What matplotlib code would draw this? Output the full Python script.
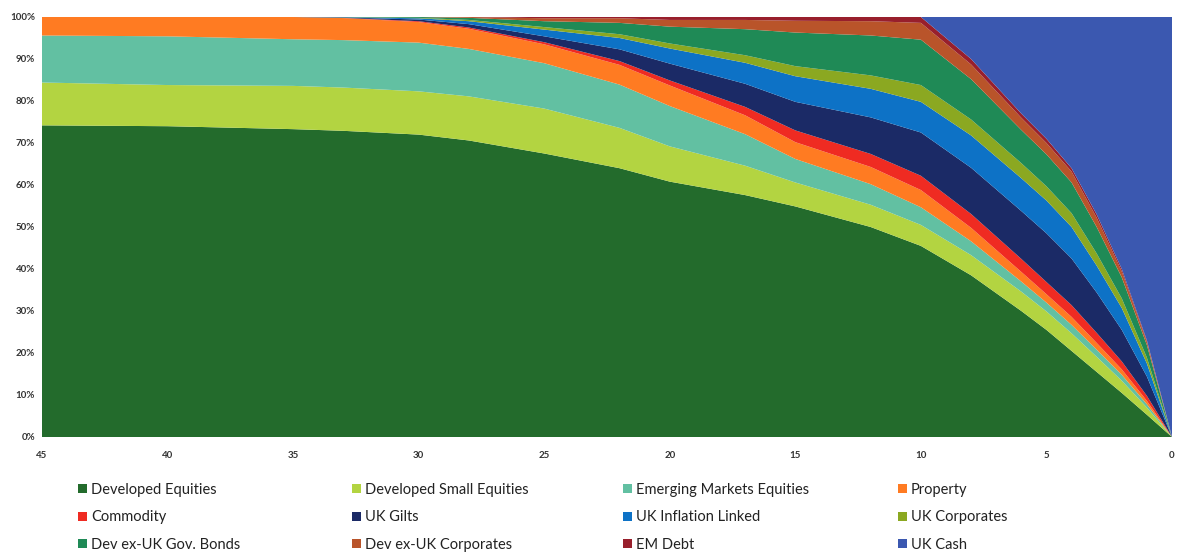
import matplotlib.pyplot as plt
from matplotlib.patches import Patch

# years to retirement (x axis runs 45 -> 0)
years = [45, 40, 35, 33, 30, 28, 25, 22, 20, 17, 15, 12, 10, 8, 6, 5, 4, 3, 2, 1, 0]

dev_equities = [74.2, 74.0, 73.3, 72.9, 72.0, 70.6, 67.5, 64.0, 60.8, 57.6, 54.9, 50.0, 45.5,
                38.5, 30.0, 25.5, 20.5, 15.5, 10.5, 5.3, 0]
dev_small_equities = [10.2, 9.8, 10.3, 10.3, 10.3, 10.5, 10.7, 9.6, 8.4, 7.0, 5.7, 5.3, 5.0,
                      4.8, 4.6, 4.4, 4.2, 3.6, 2.9, 1.7, 0]
em_equities = [11.2, 11.6, 11.1, 11.3, 11.6, 11.3, 10.8, 10.3, 9.6, 7.5, 5.6, 4.9, 4.2,
               3.3, 2.4, 2.1, 2.0, 1.7, 1.4, 0.8, 0]
property_ = [4.4, 4.6, 5.3, 5.25, 4.9, 4.8, 4.5, 4.7, 4.9, 4.5, 4.0, 4.1, 4.1,
             3.2, 2.3, 2.0, 1.9, 1.6, 1.3, 0.8, 0]
commodity = [0, 0, 0, 0.05, 0.2, 0.3, 0.5, 0.9, 1.2, 2.0, 2.8, 3.1, 3.4,
             3.3, 3.1, 2.9, 2.8, 2.4, 1.9, 1.2, 0]
uk_gilts = [0, 0, 0, 0.1, 0.4, 0.8, 1.4, 2.8, 4.0, 5.5, 6.8, 8.7, 10.3,
            11.0, 11.4, 11.6, 11.1, 9.6, 7.5, 4.6, 0]
uk_inflation = [0, 0, 0, 0.05, 0.3, 0.7, 1.6, 2.7, 3.6, 5.0, 6.1, 6.8, 7.3,
                7.7, 7.8, 7.8, 7.5, 6.4, 5.2, 3.1, 0]
uk_corporates = [0, 0, 0, 0, 0.1, 0.3, 0.6, 0.9, 1.2, 1.8, 2.4, 3.2, 4.0,
                 3.8, 3.6, 3.4, 3.3, 2.9, 2.3, 1.4, 0]
dev_gov_bonds = [0, 0, 0, 0.05, 0.2, 0.5, 1.4, 2.7, 4.0, 6.2, 8.0, 9.5, 10.8,
                 9.6, 7.9, 7.6, 7.3, 6.3, 5.0, 3.0, 0]
dev_corporates = [0, 0, 0, 0, 0, 0.2, 0.7, 1.1, 1.6, 2.2, 2.8, 3.4, 4.0,
                  3.5, 2.9, 2.7, 2.6, 2.2, 1.4, 0.8, 0]
em_debt = [0, 0, 0, 0, 0, 0, 0.3, 0.3, 0.7, 0.7, 0.9, 1.0, 1.4,
           1.3, 1.0, 1.0, 0.8, 0.8, 0.6, 0.3, 0]
uk_cash = [0, 0, 0, 0, 0, 0, 0, 0, 0, 0, 0, 0, 0,
           10.0, 23.0, 29.0, 36.0, 47.0, 60.0, 77.0, 100]

labels = ['Developed Equities', 'Developed Small Equities', 'Emerging Markets Equities', 'Property',
          'Commodity', 'UK Gilts', 'UK Inflation Linked', 'UK Corporates',
          'Dev ex-UK Gov. Bonds', 'Dev ex-UK Corporates', 'EM Debt', 'UK Cash']
colors = ['#236b2c', '#b3d441', '#62c0a2', '#ff7b22',
          '#ef2b22', '#1b2a66', '#0d72c6', '#8ba821',
          '#1f8a56', '#b9542a', '#981f2c', '#3b58b0']

series = [dev_equities, dev_small_equities, em_equities, property_,
          commodity, uk_gilts, uk_inflation, uk_corporates,
          dev_gov_bonds, dev_corporates, em_debt, uk_cash]

plt.rcParams['font.family'] = ['Lato', 'DejaVu Sans']

fig = plt.figure(figsize=(11.77, 5.58), dpi=100)
ax = fig.add_axes([42 / 1177, 1 - 437 / 558, 1130 / 1177, 420 / 558])

ax.stackplot(years, *series, colors=colors, linewidth=0)
ax.set_xlim(45, 0)
ax.set_ylim(0, 100)

ax.set_xticks(range(45, -1, -5))
ax.set_xticklabels([str(v) for v in range(45, -1, -5)], fontsize=7, fontweight='bold', color='#333333')
ax.set_yticks(range(0, 101, 10))
ax.set_yticklabels([f'{v}%' for v in range(0, 101, 10)], fontsize=7, fontweight='bold', color='#333333')
ax.tick_params(axis='x', length=0, pad=10)
ax.tick_params(axis='y', length=0, pad=5)
for s in ax.spines.values():
    s.set_visible(False)

# legend: 4 columns, filled row by row
handles = [Patch(facecolor=c, edgecolor='none') for c in colors]
col_x = [78, 352, 623, 898]
for i, x in enumerate(col_x):
    idx = [i, i + 4, i + 8]
    fig.legend([handles[k] for k in idx], [labels[k] for k in idx],
               loc='upper left', bbox_to_anchor=(x / 1177, 1 - 483 / 558),
               frameon=False, fontsize=10.5, handlelength=0.6, handleheight=0.6,
               handletextpad=0.3, labelspacing=0.92, borderaxespad=0, borderpad=0,
               labelcolor='#222222')

fig.savefig('out.png', dpi=100)
